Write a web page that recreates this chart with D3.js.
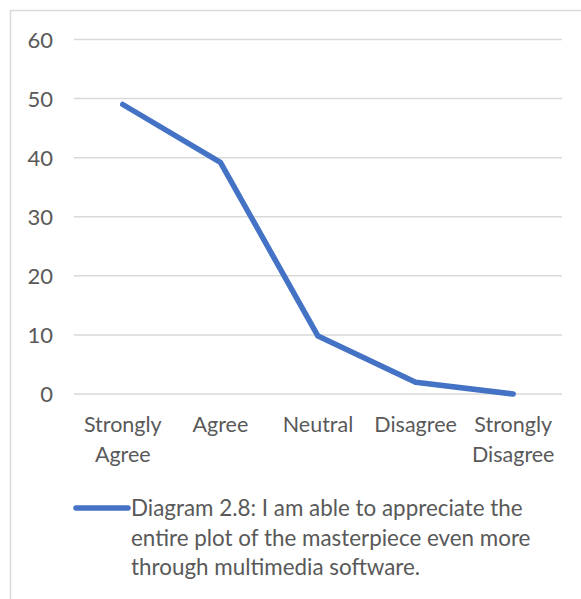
<!DOCTYPE html>
<html>
<head>
<meta charset="utf-8">
<script src="https://cdn.jsdelivr.net/npm/d3@7"></script>
<style>
  html, body { margin: 0; padding: 0; background: #fff; }
  svg { display: block; }
  text { font-family: Lato, "Open Sans", sans-serif; fill: #595959; }
</style>
</head>
<body>
<svg id="chart" width="581" height="599"></svg>
<script>
// Survey responses (share of respondents)
const categories = [["Strongly", "Agree"], ["Agree"], ["Neutral"], ["Disagree"], ["Strongly", "Disagree"]];
const values = [49, 39.2, 9.8, 2, 0];
const yTicks = [0, 10, 20, 30, 40, 50, 60];
const legendLines = [
  "Diagram 2.8: I am able to appreciate the",
  "entire plot of the masterpiece even more",
  "through multimedia software."
];

const svg = d3.select("#chart");
const W = 581, H = 599;
const plot = { left: 74, right: 562, top: 39.5, bottom: 394 };
const lineColor = "#4472C4";

// outer frame (top and left edges visible)
svg.append("line").attr("x1", 10).attr("x2", W).attr("y1", 10.5).attr("y2", 10.5)
  .attr("stroke", "#d9d9d9").attr("stroke-width", 1.5);
svg.append("line").attr("x1", 10.5).attr("x2", 10.5).attr("y1", 10).attr("y2", H)
  .attr("stroke", "#d9d9d9").attr("stroke-width", 1.5);

const x = d3.scaleBand()
  .domain(categories.map((d, i) => i))
  .range([plot.left, plot.right])
  .padding(0);
const y = d3.scaleLinear().domain([0, 60]).range([plot.bottom, plot.top]);

// gridlines
svg.append("g")
  .selectAll("line")
  .data(yTicks)
  .join("line")
  .attr("x1", plot.left).attr("x2", plot.right)
  .attr("y1", d => y(d)).attr("y2", d => y(d))
  .attr("stroke", "#d9d9d9").attr("stroke-width", 1.5);

// y axis labels
const yAxis = d3.axisLeft(y).tickValues(yTicks).tickSize(0).tickPadding(0);
const gy = svg.append("g").attr("transform", "translate(53,0)").call(yAxis);
gy.select(".domain").remove();
gy.selectAll("text")
  .attr("font-size", 22)
  .attr("font-family", "Lato, sans-serif")
  .attr("fill", "#595959")
  .attr("dy", "0.35em");

// x axis category labels
const gx = svg.append("g");
categories.forEach((lines, i) => {
  const t = gx.append("text")
    .attr("x", x(i) + x.bandwidth() / 2)
    .attr("y", 432)
    .attr("text-anchor", "middle")
    .attr("font-size", 21.5);
  lines.forEach((ln, j) => {
    t.append("tspan")
      .attr("x", x(i) + x.bandwidth() / 2)
      .attr("dy", j === 0 ? 0 : 30)
      .text(ln);
  });
});

// data line
const line = d3.line()
  .x((d, i) => x(i) + x.bandwidth() / 2)
  .y(d => y(d));
svg.append("path")
  .datum(values)
  .attr("d", line)
  .attr("fill", "none")
  .attr("stroke", lineColor)
  .attr("stroke-width", 5.5)
  .attr("stroke-linejoin", "round")
  .attr("stroke-linecap", "round");

// legend
const leg = svg.append("g");
leg.append("line")
  .attr("x1", 76).attr("x2", 128)
  .attr("y1", 508).attr("y2", 508)
  .attr("stroke", lineColor).attr("stroke-width", 5.5)
  .attr("stroke-linecap", "round");
legendLines.forEach((ln, i) => {
  leg.append("text")
    .attr("x", 131)
    .attr("y", 516 + i * 29.5)
    .attr("font-size", 22.4)
    .text(ln);
});
</script>
</body>
</html>
